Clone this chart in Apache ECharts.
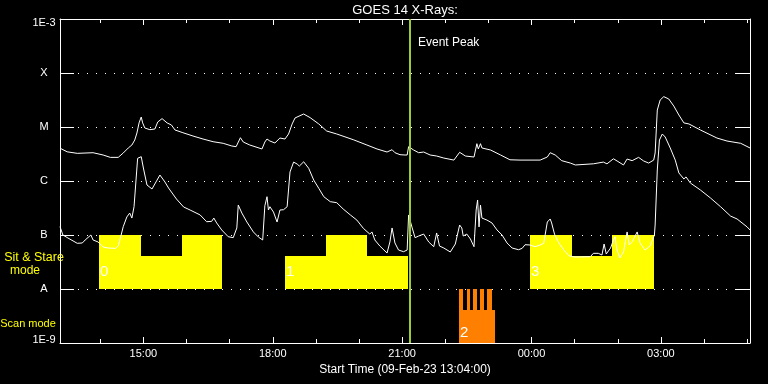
<!DOCTYPE html>
<html><head><meta charset="utf-8">
<script src="https://cdn.jsdelivr.net/npm/echarts@6/dist/echarts.min.js"></script>
<style>html,body{margin:0;padding:0;background:#000;}#c{width:768px;height:384px;}</style>
</head><body><div id="c"></div>
<script>
// ---------------- data ----------------
const chartTitle = 'GOES 14 X-Rays:';
const startLabel = 'Start Time (09-Feb-23 13:04:00)';
const startTime = '13:04', endTime = '05:04';
const majorTicks = ['15:00','18:00','21:00','00:00','03:00'];
const minorTicks = ['14:00','15:00','16:00','17:00','18:00','19:00','20:00','21:00','22:00','23:00','00:00','01:00','02:00','03:00','04:00','05:00'];
const yExponents = [-9,-8,-7,-6,-5,-4,-3];
const yTickLabels = ['1E-9','A','B','C','M','X','1E-3'];
const eventPeakTime = '21:10';
const eventPeakLabel = 'Event Peak';
const sitStareText = ['Sit & Stare','mode'];
const scanText = 'Scan mode';

// GOES long channel (1-8 A)
const longTimes = ['13:04','13:14','13:28','13:50','14:04','14:14','14:25','14:32','14:39','14:44','14:48','14:51','14:54','14:57','14:59','15:02','15:09','15:16','15:20','15:26','15:33','15:39','15:44','15:55','16:09','16:23','16:37','16:51','17:03','17:09','17:15','17:19','17:28','17:45','17:49','17:52','17:56','18:03','18:10','18:17','18:22','18:27','18:31','18:43','18:52','19:04','19:15','19:29','19:52','20:11','20:25','20:39','20:46','20:50','20:57','21:04','21:07','21:09','21:11','21:16','21:23','21:30','21:39','21:48','21:58','22:12','22:20','22:28','22:40','22:44','22:46','22:49','22:51','23:03','23:17','23:30','23:44','00:12','00:22','00:26','00:33','00:42','00:54','01:01','01:26','01:40','01:45','01:54','01:59','02:08','02:13','02:20','02:29','02:36','02:43','02:50','02:52','02:55','02:59','03:04','03:11','03:18','03:25','03:32','03:39','03:55','04:18','04:32','04:51','05:04'];
const longFlux = [4.05e-6,3.47e-6,3.25e-6,3.34e-6,3.03e-6,2.74e-6,2.74e-6,3.30e-6,4.09e-6,4.64e-6,5.74e-6,7.74e-6,1.19e-5,1.53e-5,1.19e-5,9.58e-6,8.92e-6,9.18e-6,1.24e-5,1.43e-5,1.19e-5,1.09e-5,8.80e-6,7.84e-6,6.81e-6,5.99e-6,5.34e-6,4.99e-6,4.45e-6,4.32e-6,6.33e-6,5.27e-6,4.64e-6,3.92e-6,5.27e-6,5.99e-6,5.50e-6,5.06e-6,6.25e-6,5.99e-6,7.42e-6,1.14e-5,1.47e-5,1.74e-5,1.49e-5,1.14e-5,8.43e-6,7.42e-6,5.82e-6,4.64e-6,3.92e-6,3.44e-6,3.80e-6,3.34e-6,3.07e-6,3.03e-6,3.03e-6,4.32e-6,4.45e-6,3.75e-6,3.34e-6,3.44e-6,3.03e-6,2.90e-6,2.66e-6,2.44e-6,3.40e-6,2.90e-6,2.78e-6,4.91e-6,3.92e-6,4.91e-6,4.09e-6,3.75e-6,3.03e-6,2.47e-6,2.44e-6,2.44e-6,2.78e-6,3.34e-6,3.03e-6,2.38e-6,2.15e-6,1.98e-6,2.08e-6,2.24e-6,2.08e-6,2.58e-6,2.35e-6,1.98e-6,2.55e-6,2.38e-6,2.74e-6,2.35e-6,2.15e-6,2.44e-6,3.30e-6,2.06e-5,3.16e-5,3.65e-5,3.30e-5,2.44e-5,1.67e-5,1.19e-5,1.14e-5,8.80e-6,6.25e-6,5.50e-6,4.99e-6,4.09e-6];

// GOES short channel (0.5-4 A)
const shortTimes = ['13:04','13:08','13:15','13:28','13:35','13:39','13:47','13:50','13:57','14:04','14:11','14:21','14:25','14:28','14:32','14:37','14:41','14:44','14:47','14:52','14:57','15:00','15:05','15:12','15:19','15:23','15:30','15:35','15:40','15:46','15:56','16:05','16:19','16:28','16:35','16:38','16:42','16:49','16:58','17:05','17:10','17:12','17:17','17:24','17:33','17:40','17:46','17:49','17:52','17:54','17:56','18:01','18:06','18:10','18:15','18:20','18:24','18:29','18:34','18:37','18:43','18:50','18:57','19:04','19:11','19:20','19:29','19:38','19:48','19:57','20:06','20:15','20:18','20:22','20:29','20:39','20:43','20:46','20:50','20:55','21:02','21:07','21:09','21:14','21:18','21:23','21:30','21:37','21:44','21:48','21:52','21:58','22:07','22:14','22:20','22:23','22:25','22:30','22:35','22:40','22:43','22:45','22:47','22:49','22:51','22:58','23:05','23:12','23:19','23:26','23:33','23:42','23:47','23:51','23:58','00:05','00:12','00:17','00:22','00:26','00:28','00:32','00:38','00:45','00:52','00:59','01:08','01:22','01:26','01:33','01:38','01:41','01:44','01:50','01:53','01:56','01:59','02:03','02:08','02:13','02:16','02:20','02:27','02:31','02:38','02:45','02:51','02:52','02:55','02:58','03:02','03:06','03:13','03:20','03:25','03:32','03:35','03:41','03:55','04:09','04:23','04:37','04:46','05:00','05:04'];
const shortFlux = [1.43e-7,1.0e-7,8.80e-8,7.02e-8,7.11e-8,8.08e-8,1.0e-7,8.08e-8,7.42e-8,5.99e-8,5.74e-8,5.66e-8,6.25e-8,8.80e-8,1.43e-7,2.16e-7,2.55e-7,2.06e-7,3.34e-7,2.63e-6,2.82e-6,1.74e-6,8.43e-7,7.11e-7,1.04e-6,1.29e-6,9.58e-7,7.42e-7,5.99e-7,4.64e-7,3.30e-7,2.90e-7,2.35e-7,1.76e-7,1.79e-7,2.06e-7,1.67e-7,1.24e-7,9.30e-8,8.92e-8,1.35e-7,3.59e-7,2.55e-7,1.74e-7,1.14e-7,9.18e-8,8.08e-8,3.47e-7,5.12e-7,2.90e-7,3.34e-7,2.66e-7,1.74e-7,2.90e-7,2.94e-7,3.34e-7,1.47e-6,2.24e-6,2.06e-6,1.89e-6,2.27e-6,1.72e-6,1.04e-6,7.33e-7,5.12e-7,4.14e-7,3.97e-7,3.03e-7,2.35e-7,1.89e-7,1.33e-7,1.04e-7,1.14e-7,8.08e-8,6.25e-8,4.64e-8,7.42e-8,1.35e-7,7.11e-8,5.27e-8,4.91e-8,5.27e-8,2.35e-7,1.35e-7,8.92e-8,9.58e-8,1.04e-7,7.42e-8,6.07e-8,1.09e-7,6.25e-8,5.74e-8,4.85e-8,6.81e-8,1.53e-7,1.35e-7,9.58e-8,1.04e-7,8.43e-8,6.07e-8,2.90e-7,4.45e-7,1.41e-7,3.59e-7,2.06e-7,1.89e-7,1.67e-7,1.24e-7,1.0e-7,7.11e-8,5.74e-8,5.34e-8,5.66e-8,6.61e-8,6.53e-8,6.07e-8,6.53e-8,7.02e-8,1.74e-7,1.98e-7,1.67e-7,1.04e-7,7.11e-8,5.27e-8,4.14e-8,3.92e-8,3.92e-8,3.97e-8,4.58e-8,4.58e-8,4.26e-8,6.81e-8,4.45e-8,5.74e-8,7.42e-8,9.30e-8,5.27e-8,3.75e-8,4.85e-8,1.14e-7,6.53e-8,7.42e-8,1.14e-7,7.11e-8,5.27e-8,6.25e-8,1.0e-7,1.53e-7,1.60e-6,5.74e-6,7.42e-6,6.53e-6,4.09e-6,2.44e-6,1.41e-6,1.09e-6,1.19e-6,9.18e-7,6.81e-7,4.85e-7,3.34e-7,2.24e-7,1.98e-7,1.41e-7,1.24e-7];

// Sit & Stare mode blocks
const sitStareStart = ['13:58','14:57','15:54','18:17','19:14','20:11','23:58','00:57','01:52'];
const sitStareEnd   = ['14:57','15:54','16:50','19:14','20:11','21:08','00:57','01:52','02:51'];
const sitStareTop   = [1e-7,4.1e-8,1e-7,4.1e-8,1e-7,4.1e-8,1e-7,4.1e-8,1e-7];
const sitStareLabel = ['0','','','1','','','3','',''];
const sitStareBase = 1e-8;

// Scan mode blocks
const scanStart = ['22:19','22:19','22:30','22:39','22:49','22:58'];
const scanEnd   = ['23:09','22:25','22:35','22:44','22:54','23:05'];
const scanTop   = [4.1e-9,1e-8,1e-8,1e-8,1e-8,1e-8];
const scanLabel = ['2','','','','',''];
const scanBase = 1e-9;

// ---------------- helpers ----------------
function toMin(s){ const p = s.split(':').map(Number); let v = p[0]*60 + p[1]; if (p[0] < 13) v += 1440; return v; }
function fmtTime(v){ const h = Math.floor(v/60) % 24, m = Math.round(v % 60); return String(h).padStart(2,'0') + ':' + String(m).padStart(2,'0'); }
const FONT = 'Liberation Sans';
const WHITE = '#ffffff';
const YELLOW = '#ffff00';
const ORANGE = '#ff8000';
const PEAK = '#9acd32';

const longData = longTimes.map((t,i)=>[toMin(t), longFlux[i]]);
const shortData = shortTimes.map((t,i)=>[toMin(t), shortFlux[i]]);
const sitData = sitStareStart.map((t,i)=>[toMin(t), toMin(sitStareEnd[i]), sitStareTop[i], sitStareBase]);
const scanData = scanStart.map((t,i)=>[toMin(t), toMin(scanEnd[i]), scanTop[i], scanBase]);

function blockRenderer(color, labels, labelLift){
  return function(params, api){
    const s = api.value(0), e = api.value(1), top = api.value(2), base = api.value(3);
    const label = labels[params.dataIndex];
    const p0 = api.coord([s, top]);
    const p1 = api.coord([e, base]);
    const x0 = Math.round(p0[0]), x1 = Math.round(p1[0]);
    const y0 = Math.round(p0[1]), y1 = Math.round(p1[1]);
    const children = [{ type:'rect', shape:{ x:x0, y:y0, width:x1-x0, height:y1-y0 }, style:{ fill:color } }];
    if (label !== undefined && label !== '') {
      children.push({ type:'text', z2:100, x:x0+1, y:y1-labelLift,
        style:{ text:String(label), fill:WHITE, font:'15px ' + FONT, textAlign:'left', textVerticalAlign:'middle' } });
    }
    return { type:'group', children };
  };
}

const xMin = toMin(startTime), xMax = toMin(endTime);
const tickLine = { color: WHITE, width: 1 };
function xAxisDef(pos, len, ticks, showLine, extra){
  return Object.assign({
    type:'value', position:pos, min:xMin, max:xMax,
    splitLine:{show:false},
    axisLine:{show:showLine, onZero:false, lineStyle:{color:WHITE, width:1}},
    axisTick:{show:true, inside:true, length:len, customValues:ticks.map(toMin), lineStyle:tickLine},
    axisLabel:{show:false}
  }, extra || {});
}
const labelMap = {};
yExponents.forEach((e,i)=>{ labelMap[e] = yTickLabels[i]; });

function yAxisDef(pos, showLabels){
  return {
    type:'log', logBase:10, min:1e-9, max:1e-3, splitNumber:6, position:pos,
    axisLine:{show:true, onZero:false, lineStyle:{color:WHITE, width:1}},
    axisTick:{show:true, inside:true, length:14, lineStyle:tickLine},
    splitLine:{show:showLabels, lineStyle:{color:WHITE, width:1, type:[1,8]}},
    axisLabel: showLabels ? {
      show:true, align:'center', margin:16, color:WHITE, fontSize:11, fontFamily:FONT,
      formatter:function(v){
        const e = Math.round(Math.log10(v));
        const t = labelMap[e] || '';
        if (e === -3) return '{t|' + t + '}';
        if (e === -9) return '{b|' + t + '}';
        return t;
      },
      rich:{
        t:{ padding:[8,0,0,0], color:WHITE, fontSize:11, fontFamily:FONT },
        b:{ padding:[0,0,6,0], color:WHITE, fontSize:11, fontFamily:FONT }
      }
    } : {show:false}
  };
}

const chart = echarts.init(document.getElementById('c'), null, {renderer:'canvas'});
chart.setOption({
  backgroundColor:'#000000',
  animation:false,
  textStyle:{ fontFamily:FONT, color:WHITE },
  grid:{ left:60, right:18, top:19, bottom:41, containLabel:false, outerBoundsMode:'none' },
  xAxis:[
    xAxisDef('bottom', 6, majorTicks, true, {
      axisLabel:{ show:true, customValues:majorTicks.map(toMin), formatter:fmtTime, color:WHITE, fontSize:11, fontFamily:FONT, margin:5 },
      name:startLabel, nameLocation:'middle', nameGap:19,
      nameTextStyle:{ color:WHITE, fontSize:12, fontFamily:FONT }
    }),
    xAxisDef('bottom', 4, minorTicks, false),
    xAxisDef('top', 6, majorTicks, true),
    xAxisDef('top', 4, minorTicks, false)
  ],
  yAxis:[ yAxisDef('left', true), yAxisDef('right', false) ],
  graphic:[
    { type:'text', x:405, y:10, style:{ text:chartTitle, fill:WHITE, font:'13px ' + FONT, textAlign:'center', textVerticalAlign:'middle' } },
    { type:'text', x:418, y:43, style:{ text:eventPeakLabel, fill:WHITE, font:'12px ' + FONT, textAlign:'left', textVerticalAlign:'middle' } },
    { type:'text', x:34, y:258, style:{ text:sitStareText[0], fill:YELLOW, font:'12.5px ' + FONT, textAlign:'center', textVerticalAlign:'middle' } },
    { type:'text', x:25, y:271, style:{ text:sitStareText[1], fill:YELLOW, font:'12px ' + FONT, textAlign:'center', textVerticalAlign:'middle' } },
    { type:'text', x:28, y:324, style:{ text:scanText, fill:YELLOW, font:'11px ' + FONT, textAlign:'center', textVerticalAlign:'middle' } }
  ],
  series:[
    { type:'custom', name:'Sit & Stare', xAxisIndex:0, yAxisIndex:0, z:1, silent:true, clip:true,
      renderItem:blockRenderer(YELLOW, sitStareLabel, 17), encode:{x:[0,1], y:[2,3]}, data:sitData },
    { type:'custom', name:'Scan', xAxisIndex:0, yAxisIndex:0, z:1, silent:true, clip:true,
      renderItem:blockRenderer(ORANGE, scanLabel, 10), encode:{x:[0,1], y:[2,3]}, data:scanData },
    { type:'line', name:'1-8 A', xAxisIndex:0, yAxisIndex:0, z:3, data:longData, showSymbol:false, symbol:'none',
      lineStyle:{ color:WHITE, width:1 }, silent:true },
    { type:'line', name:'0.5-4 A', xAxisIndex:0, yAxisIndex:0, z:3, data:shortData, showSymbol:false, symbol:'none',
      lineStyle:{ color:WHITE, width:1 }, silent:true,
      markLine:{ silent:true, symbol:['none','none'], label:{show:false}, z:4,
        lineStyle:{ color:PEAK, width:2, type:'solid' },
        emphasis:{ disabled:true },
        data:[{ xAxis: toMin(eventPeakTime) }] } }
  ]
});
</script>
</body></html>
